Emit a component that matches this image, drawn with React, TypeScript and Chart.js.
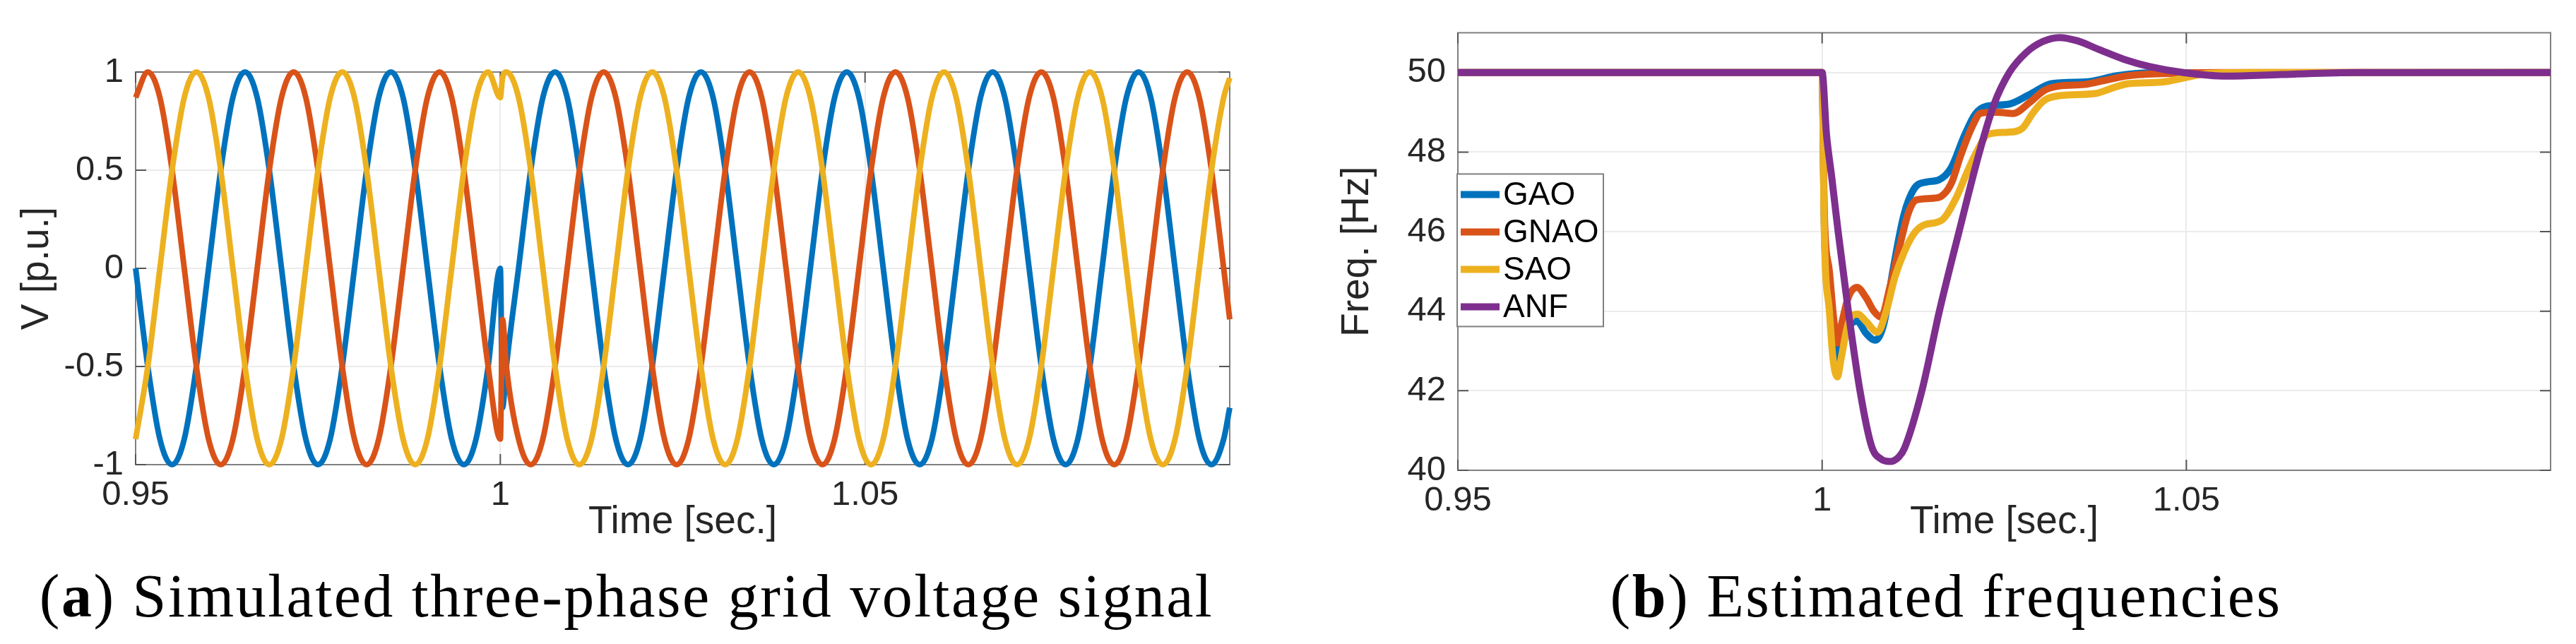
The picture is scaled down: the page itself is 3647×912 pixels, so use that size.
import React, { useEffect, useRef } from "react";
import { Chart, registerables } from "chart.js";

Chart.register(...registerables);

// ---------------- (a) three-phase voltage ----------------
const VOLT_T = [
  0.95, 0.95167, 0.95333, 0.955, 0.95667, 0.95833,
  0.96, 0.96167, 0.96333, 0.965, 0.96667, 0.96833,
  0.97, 0.97167, 0.97333, 0.975, 0.97667, 0.97833,
  0.98, 0.98167, 0.98333, 0.985, 0.98667, 0.98833,
  0.99, 0.99167, 0.99333, 0.995, 0.99667, 0.99833,
  1.0,
  1.0003,
  1.00083, 1.0025, 1.00417, 1.00583, 1.0075, 1.00917,
  1.01083, 1.0125, 1.01417, 1.01583, 1.0175, 1.01917,
  1.02083, 1.0225, 1.02417, 1.02583, 1.0275, 1.02917,
  1.03083, 1.0325, 1.03417, 1.03583, 1.0375, 1.03917,
  1.04083, 1.0425, 1.04417, 1.04583, 1.0475, 1.04917,
  1.05083, 1.0525, 1.05417, 1.05583, 1.0575, 1.05917,
  1.06083, 1.0625, 1.06417, 1.06583, 1.0675, 1.06917,
  1.07083, 1.0725, 1.07417, 1.07583, 1.0775, 1.07917,
  1.08083, 1.0825, 1.08417, 1.08583, 1.0875, 1.08917,
  1.09083, 1.0925, 1.09417, 1.09583, 1.0975, 1.09917,
  1.1,
];

const VOLT_A = [
  0, -0.5, -0.87, -1, -0.87, -0.5,
  0, 0.5, 0.87, 1, 0.87, 0.5,
  0, -0.5, -0.87, -1, -0.87, -0.5,
  0, 0.5, 0.87, 1, 0.87, 0.5,
  0, -0.5, -0.87, -1, -0.87, -0.5,
  0,
  -0.71,
  -0.5, 0, 0.5, 0.87, 1, 0.87,
  0.5, 0, -0.5, -0.87, -1, -0.87,
  -0.5, 0, 0.5, 0.87, 1, 0.87,
  0.5, 0, -0.5, -0.87, -1, -0.87,
  -0.5, 0, 0.5, 0.87, 1, 0.87,
  0.5, 0, -0.5, -0.87, -1, -0.87,
  -0.5, 0, 0.5, 0.87, 1, 0.87,
  0.5, 0, -0.5, -0.87, -1, -0.87,
  -0.5, 0, 0.5, 0.87, 1, 0.87,
  0.5, 0, -0.5, -0.87, -1, -0.87,
  -0.71,
];

const VOLT_B = [
  0.87, 1, 0.87, 0.5, 0, -0.5,
  -0.87, -1, -0.87, -0.5, 0, 0.5,
  0.87, 1, 0.87, 0.5, 0, -0.5,
  -0.87, -1, -0.87, -0.5, 0, 0.5,
  0.87, 1, 0.87, 0.5, 0, -0.5,
  -0.87,
  -0.26,
  -0.5, -0.87, -1, -0.87, -0.5, 0,
  0.5, 0.87, 1, 0.87, 0.5, 0,
  -0.5, -0.87, -1, -0.87, -0.5, 0,
  0.5, 0.87, 1, 0.87, 0.5, 0,
  -0.5, -0.87, -1, -0.87, -0.5, 0,
  0.5, 0.87, 1, 0.87, 0.5, 0,
  -0.5, -0.87, -1, -0.87, -0.5, 0,
  0.5, 0.87, 1, 0.87, 0.5, 0,
  -0.5, -0.87, -1, -0.87, -0.5, 0,
  0.5, 0.87, 1, 0.87, 0.5, 0,
  -0.26,
];

const VOLT_C = [
  -0.87, -0.5, 0, 0.5, 0.87, 1,
  0.87, 0.5, 0, -0.5, -0.87, -1,
  -0.87, -0.5, 0, 0.5, 0.87, 1,
  0.87, 0.5, 0, -0.5, -0.87, -1,
  -0.87, -0.5, 0, 0.5, 0.87, 1,
  0.87,
  0.97,
  1, 0.87, 0.5, 0, -0.5, -0.87,
  -1, -0.87, -0.5, 0, 0.5, 0.87,
  1, 0.87, 0.5, 0, -0.5, -0.87,
  -1, -0.87, -0.5, 0, 0.5, 0.87,
  1, 0.87, 0.5, 0, -0.5, -0.87,
  -1, -0.87, -0.5, 0, 0.5, 0.87,
  1, 0.87, 0.5, 0, -0.5, -0.87,
  -1, -0.87, -0.5, 0, 0.5, 0.87,
  1, 0.87, 0.5, 0, -0.5, -0.87,
  -1, -0.87, -0.5, 0, 0.5, 0.87,
  0.97,
];

const X_TICKS = [0.95, 1, 1.05];
const X_TICK_LABELS = ["0.95", "1", "1.05"];
const VOLT_Y_TICKS = [-1, -0.5, 0, 0.5, 1];
const VOLT_Y_LABELS = ["-1", "-0.5", "0", "0.5", "1"];

// ---------------- (b) estimated frequencies ----------------
const GAO_T = [0.95, 1.0, 1.0003, 1.001, 1.0016, 1.0021, 1.0027, 1.0036, 1.0048, 1.006, 1.0073, 1.0085, 1.0097, 1.0112, 1.0126, 1.0144, 1.016, 1.0177, 1.0195, 1.021, 1.0225, 1.0255, 1.0285, 1.0315, 1.0365, 1.0405, 1.045, 1.1];
const GAO_F = [50, 50, 46.2, 44.2, 43.2, 42.7, 43.2, 43.6, 43.75, 43.45, 43.27, 43.7, 45.0, 46.4, 47.07, 47.25, 47.3, 47.6, 48.4, 48.95, 49.15, 49.2, 49.45, 49.72, 49.77, 49.92, 49.99, 50];

const GNAO_T = [0.95, 1.0, 1.0003, 1.001, 1.0016, 1.0021, 1.0027, 1.0036, 1.0048, 1.006, 1.0071, 1.0081, 1.0093, 1.0106, 1.0119, 1.013, 1.0158, 1.0177, 1.019, 1.0205, 1.0218, 1.024, 1.0262, 1.0285, 1.0305, 1.0325, 1.036, 1.0387, 1.042, 1.048, 1.055, 1.1];
const GNAO_F = [50, 50, 46.5, 45.0, 43.8, 43.2, 43.7, 44.35, 44.6, 44.35, 44.0, 43.85, 44.6, 45.6, 46.5, 46.8, 46.85, 47.2, 47.9, 48.6, 48.98, 49.0, 48.97, 49.25, 49.55, 49.66, 49.7, 49.8, 49.92, 49.98, 50, 50];

const SAO_T = [0.95, 1.0, 1.0003, 1.001, 1.0015, 1.0021, 1.0026, 1.0036, 1.0049, 1.006, 1.0076, 1.0088, 1.01, 1.0113, 1.0126, 1.0139, 1.0165, 1.0184, 1.0198, 1.0212, 1.0228, 1.0255, 1.0275, 1.029, 1.0305, 1.0327, 1.0374, 1.04, 1.042, 1.0466, 1.05, 1.0526, 1.058, 1.1];
const SAO_F = [50, 50, 46.0, 44.0, 42.8, 42.35, 42.8, 43.7, 43.93, 43.75, 43.47, 44.0, 44.86, 45.5, 45.95, 46.16, 46.3, 46.85, 47.45, 48.0, 48.45, 48.5, 48.6, 49.0, 49.3, 49.42, 49.47, 49.62, 49.72, 49.76, 49.88, 49.97, 50, 50];

const ANF_T = [0.95, 1.0, 1.0006, 1.0013, 1.0022, 1.0036, 1.0052, 1.0068, 1.0081, 1.0093, 1.0105, 1.0113, 1.0137, 1.0161, 1.0188, 1.0216, 1.0236, 1.0257, 1.028, 1.0303, 1.0326, 1.035, 1.038, 1.0415, 1.045, 1.0496, 1.0556, 1.063, 1.0733, 1.1];
const ANF_F = [50, 50, 48.45, 47.4, 46.0, 44.0, 42.0, 40.6, 40.28, 40.22, 40.33, 40.55, 42.0, 44.0, 46.0, 48.0, 49.2, 50.0, 50.5, 50.78, 50.88, 50.8, 50.58, 50.33, 50.15, 50.0, 49.91, 49.95, 50.0, 50.0];

const FREQ_NAMES = ["GAO", "GNAO", "SAO", "ANF"];
const FREQ_Y_TICKS = [40, 42, 44, 46, 48, 50];
const FREQ_Y_LABELS = ["40", "42", "44", "46", "48", "50"];

const COLORS = ["#0072BD", "#D95319", "#EDB120", "#7E2F8E"];

const SANS = "'Liberation Sans', Arial, Helvetica, sans-serif";
const TEXT = "#262626";

const pts = (t: number[], v: number[]) => t.map((x, i) => ({ x, y: v[i] }));

const boxPlugin = {
  id: "matlabBox",
  beforeDatasetsDraw(chart: any) {
    const { ctx, chartArea: a, scales } = chart;
    ctx.save();
    ctx.strokeStyle = "#808080";
    ctx.lineWidth = 2;
    ctx.strokeRect(a.left, a.top, a.right - a.left, a.bottom - a.top);
    ctx.strokeStyle = "#555555";
    const L = 15;
    ctx.beginPath();
    scales.x.ticks.forEach((t: any) => {
      const p = scales.x.getPixelForValue(t.value);
      ctx.moveTo(p, a.bottom);
      ctx.lineTo(p, a.bottom - L);
      ctx.moveTo(p, a.top);
      ctx.lineTo(p, a.top + L);
    });
    scales.y.ticks.forEach((t: any) => {
      const p = scales.y.getPixelForValue(t.value);
      ctx.moveTo(a.left, p);
      ctx.lineTo(a.left + L, p);
      ctx.moveTo(a.right, p);
      ctx.lineTo(a.right - L, p);
    });
    ctx.stroke();
    ctx.restore();
  },
};

const legendPlugin = {
  id: "insideLegend",
  afterDatasetsDraw(chart: any) {
    const { ctx, chartArea: a } = chart;
    const x0 = a.left - 1;
    const y0 = a.top + 200;
    const w = 207;
    const h = 216;
    ctx.save();
    ctx.fillStyle = "#ffffff";
    ctx.fillRect(x0, y0, w, h);
    ctx.strokeStyle = "#808080";
    ctx.lineWidth = 2;
    ctx.strokeRect(x0, y0, w, h);
    ctx.font = `46px ${SANS}`;
    ctx.textBaseline = "middle";
    ctx.textAlign = "left";
    FREQ_NAMES.forEach((name, i) => {
      const y = y0 + 29 + i * 53;
      ctx.strokeStyle = COLORS[i];
      ctx.lineWidth = 10;
      ctx.beginPath();
      ctx.moveTo(x0 + 5, y);
      ctx.lineTo(x0 + 60, y);
      ctx.stroke();
      ctx.fillStyle = "#000000";
      ctx.fillText(name, x0 + 65, y + 2);
    });
    ctx.restore();
  },
};

function makeScales(opts: {
  yMin: number;
  yMax: number;
  yTicks: number[];
  yLabels: string[];
  yTitle: string;
  yWidth: number;
  yTitlePad: number;
  xHeight: number;
}) {
  return {
    x: {
      type: "linear" as const,
      min: 0.95,
      max: 1.1,
      afterBuildTicks: (s: any) => {
        s.ticks = X_TICKS.map((v) => ({ value: v }));
      },
      afterFit: (s: any) => {
        s.height = opts.xHeight;
      },
      ticks: {
        autoSkip: false,
        maxRotation: 0,
        padding: 14,
        color: TEXT,
        font: { family: SANS, size: 49 },
        callback: (_v: any, i: number) => X_TICK_LABELS[i],
      },
      grid: { color: "#ebebeb", lineWidth: 2, drawTicks: false },
      border: { display: false },
      title: {
        display: true,
        text: "Time [sec.]",
        color: TEXT,
        font: { family: SANS, size: 55 },
        padding: { top: 0, bottom: 7 },
      },
    },
    y: {
      type: "linear" as const,
      min: opts.yMin,
      max: opts.yMax,
      afterBuildTicks: (s: any) => {
        s.ticks = opts.yTicks.map((v) => ({ value: v }));
      },
      afterFit: (s: any) => {
        s.width = opts.yWidth;
      },
      ticks: {
        autoSkip: false,
        padding: 17,
        color: TEXT,
        font: { family: SANS, size: 49 },
        callback: (_v: any, i: number) => opts.yLabels[i],
      },
      grid: { color: "#ebebeb", lineWidth: 2, drawTicks: false },
      border: { display: false },
      title: {
        display: true,
        text: opts.yTitle,
        color: TEXT,
        font: { family: SANS, size: 55 },
        padding: { top: opts.yTitlePad, bottom: 0 },
      },
    },
  };
}

export default function App() {
  const voltRef = useRef<HTMLCanvasElement | null>(null);
  const freqRef = useRef<HTMLCanvasElement | null>(null);

  useEffect(() => {
    const charts: Chart[] = [];
    if (voltRef.current) {
      const series = [VOLT_A, VOLT_B, VOLT_C];
      charts.push(
        new Chart(voltRef.current, {
          type: "line",
          data: {
            datasets: series.map((v, i) => ({
              label: `phase ${i + 1}`,
              data: pts(VOLT_T, v),
              borderColor: COLORS[i],
              backgroundColor: COLORS[i],
              borderWidth: 8,
              pointRadius: 0,
              cubicInterpolationMode: "monotone" as const,
              fill: false,
              order: 3 - i,
              clip: 14,
            })),
          },
          options: {
            responsive: false,
            animation: false,
            devicePixelRatio: 1,
            layout: { padding: { left: 0, top: 102, right: 59, bottom: 0 } },
            plugins: { legend: { display: false }, tooltip: { enabled: false } },
            scales: makeScales({
              yMin: -1,
              yMax: 1,
              yTicks: VOLT_Y_TICKS,
              yLabels: VOLT_Y_LABELS,
              yTitle: "V [p.u.]",
              yWidth: 192,
              yTitlePad: 20,
              xHeight: 122,
            }),
          } as any,
          plugins: [boxPlugin],
        })
      );
    }
    if (freqRef.current) {
      const series = [
        [GAO_T, GAO_F],
        [GNAO_T, GNAO_F],
        [SAO_T, SAO_F],
        [ANF_T, ANF_F],
      ];
      charts.push(
        new Chart(freqRef.current, {
          type: "line",
          data: {
            datasets: series.map(([t, v], i) => ({
              label: FREQ_NAMES[i],
              data: pts(t, v),
              borderColor: COLORS[i],
              backgroundColor: COLORS[i],
              borderWidth: 10,
              pointRadius: 0,
              cubicInterpolationMode: "monotone" as const,
              fill: false,
              order: 4 - i,
              clip: 14,
            })),
          },
          options: {
            responsive: false,
            animation: false,
            devicePixelRatio: 1,
            layout: { padding: { left: 0, top: 24, right: 36, bottom: 0 } },
            plugins: { legend: { display: false }, tooltip: { enabled: false } },
            scales: makeScales({
              yMin: 40,
              yMax: 51,
              yTicks: FREQ_Y_TICKS,
              yLabels: FREQ_Y_LABELS,
              yTitle: "Freq. [Hz]",
              yWidth: 214,
              yTitlePad: 39,
              xHeight: 114,
            }),
          } as any,
          plugins: [boxPlugin, legendPlugin],
        })
      );
    }
    return () => charts.forEach((c) => c.destroy());
  }, []);

  const captionStyle: React.CSSProperties = {
    position: "absolute",
    top: 801,
    width: 2000,
    textAlign: "center",
    whiteSpace: "nowrap",
    fontFamily: "'Liberation Serif', 'Times New Roman', serif",
    fontSize: 86,
    lineHeight: "86px",
    letterSpacing: 2.5,
    color: "#000",
  };

  return (
    <div
      style={{
        position: "absolute",
        left: 0,
        top: 0,
        width: 3647,
        height: 912,
        background: "#ffffff",
        overflow: "hidden",
      }}
    >
      <canvas
        ref={voltRef}
        width={1800}
        height={780}
        style={{ position: "absolute", left: 0, top: 0, width: 1800, height: 780 }}
      />
      <canvas
        ref={freqRef}
        width={1797}
        height={780}
        style={{ position: "absolute", left: 1850, top: 0, width: 1797, height: 780 }}
      />
      <div style={{ ...captionStyle, left: 887 - 1000 }}>
        (<b>a</b>) Simulated three-phase grid voltage signal
      </div>
      <div style={{ ...captionStyle, left: 2755 - 1000 }}>
        (<b>b</b>) Estimated frequencies
      </div>
    </div>
  );
}
